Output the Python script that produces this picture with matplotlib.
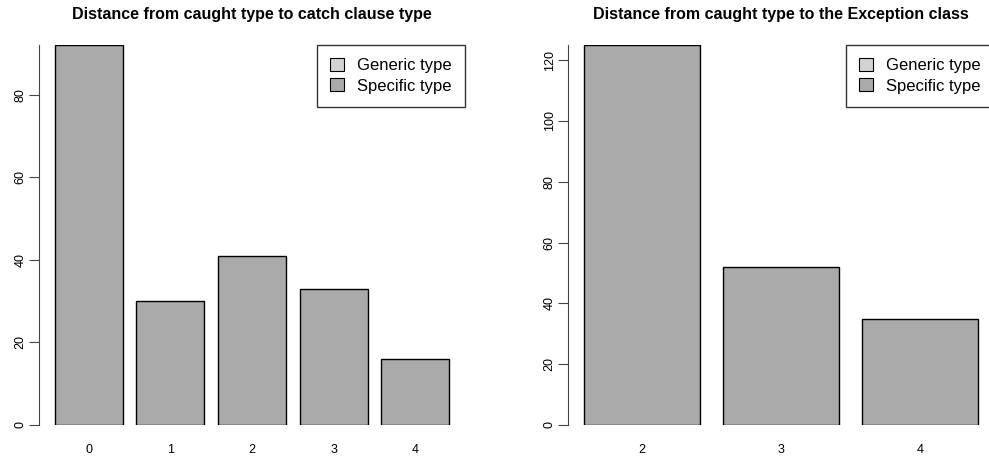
import matplotlib
matplotlib.use("Agg")
import matplotlib.pyplot as plt
from matplotlib.patches import Patch

plt.rcParams['font.family'] = ['Liberation Sans', 'DejaVu Sans']

# left panel: distance to catch clause type
catch_labels = ["0", "1", "2", "3", "4"]
catch_counts = [92, 30, 41, 33, 16]

# right panel: distance to Exception class
exc_labels = ["2", "3", "4"]
exc_counts = [125, 52, 35]

legend_labels = ["Generic type", "Specific type"]
legend_colors = ["#d3d3d3", "#aaaaaa"]
bar_color = "#aaaaaa"


def r_barplot(ax, labels, counts, title, ymax, yticks):
    # R-style barplot: width 1, space 0.2
    pos = [0.2 + 1.2 * i + 0.5 for i in range(len(counts))]
    ax.bar(pos, counts, width=1.0, color=bar_color, edgecolor="black", linewidth=1)
    n = len(counts)
    lo, hi = 0.2, 1.2 * n
    ext = (hi - lo) * 0.04
    ax.set_xlim(lo - ext, hi + ext)
    ax.set_ylim(0, ymax)
    for s in ["top", "right", "bottom"]:
        ax.spines[s].set_visible(False)
    ax.spines["left"].set_color("#444444")
    ax.set_xticks(pos)
    ax.set_xticklabels(labels, fontsize=9)
    ax.tick_params(axis="x", length=0, pad=14)
    ax.set_yticks(yticks)
    ax.set_yticklabels([str(t) for t in yticks], fontsize=9, rotation=90, va="center")
    ax.tick_params(axis="y", length=7, pad=2, color="#444444")
    ax.set_title(title, fontsize=11.5, fontweight="bold", pad=19)
    handles = [Patch(facecolor=c, edgecolor="black", linewidth=0.8) for c in legend_colors]
    leg = ax.legend(handles, legend_labels, loc="upper right", borderaxespad=0,
                    fontsize=12, frameon=True, fancybox=False, handlelength=0.8,
                    handleheight=0.8, handletextpad=0.8, labelspacing=0.3,
                    borderpad=0.8)
    leg.get_frame().set_edgecolor("black")
    leg.get_frame().set_linewidth(1)


fig = plt.figure(figsize=(9.89, 4.62), dpi=100)
ax1 = fig.add_axes([0.0396, 0.0801, 0.4305, 0.8225])
ax2 = fig.add_axes([0.5745, 0.0801, 0.4305, 0.8225])

r_barplot(ax1, catch_labels, catch_counts,
          "Distance from caught type to catch clause type", 92, [0, 20, 40, 60, 80])
r_barplot(ax2, exc_labels, exc_counts,
          "Distance from caught type to the Exception class", 125,
          [0, 20, 40, 60, 80, 100, 120])

fig.savefig("out.png", dpi=100)
